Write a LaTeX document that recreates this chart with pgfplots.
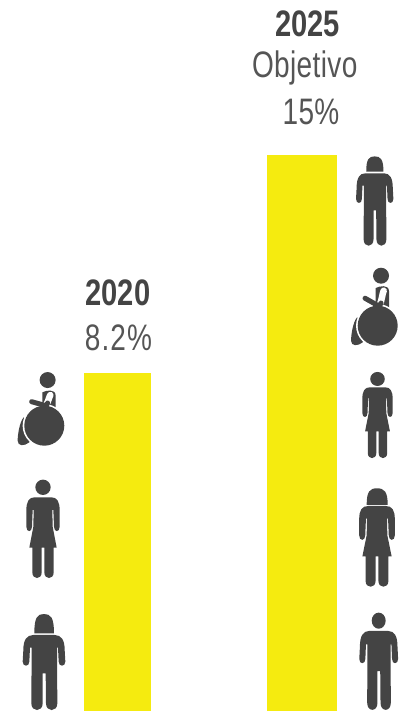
\documentclass[border=0pt]{standalone}
\usepackage{fontspec}
\setmainfont[FakeStretch=0.76,BoldFeatures={FakeStretch=0.79}]{Liberation Sans}
\usepackage{pgfplots}
\pgfplotsset{compat=1.18}
\definecolor{barcol}{HTML}{F5EB0F}
\definecolor{ink}{HTML}{444444}
\definecolor{softink}{HTML}{555555}

% pictogram placed at pixel x, y of the shoulder line; local units are 1/3 px
\newcommand{\icon}[5]{\begin{scope}[shift={(#1bp,{(711-#2)*1bp})},x=#3*0.3333bp,y=-#4*0.3333bp]#5\end{scope}}
\newcommand{\hair}[2]{\begin{scope}[shift={(0,-#1)},yscale=#2]
  \fill[ink] (-29,58) .. controls (-29,10) and (-20,0) .. (0,0) .. controls (20,0) and (30,10) .. (30,58) -- cycle;
\end{scope}}
\newcommand{\longbody}{\fill[ink] (-32,0) -- (32,0) .. controls (52,0) and (62,15) .. (62,45) -- (64,80)
  .. controls (64,96) and (44,96) .. (44,80) -- (42,38) -- (39,38) -- (40,205)
  .. controls (40,232) and (6,232) .. (6,205) -- (5,115) -- (-4,115) -- (-4,205)
  .. controls (-4,232) and (-38,232) .. (-38,205) -- (-37,38) -- (-42,38) -- (-44,80)
  .. controls (-44,96) and (-64,96) .. (-64,80) -- (-62,45) .. controls (-62,15) and (-52,0) .. (-32,0) -- cycle;}
\newcommand{\dressbody}{\fill[ink] (-25,0) -- (25,0) .. controls (42,0) and (50,12) .. (50,40) -- (50,88)
  .. controls (50,106) and (33,106) .. (33,88) -- (31,38) -- (28,38) -- (29,88) -- (41,151) -- (32,151) -- (32,225)
  .. controls (32,248) and (4,248) .. (4,225) -- (4,151) -- (-4,151) -- (-4,225)
  .. controls (-4,248) and (-32,248) .. (-32,225) -- (-32,151) -- (-41,151) -- (-29,88) -- (-28,38) -- (-31,38) -- (-33,88)
  .. controls (-33,106) and (-50,106) .. (-50,88) -- (-50,40) .. controls (-50,12) and (-42,0) .. (-25,0) -- cycle;}
% origin is the wheel centre, #1 lifts the upper body
\newcommand{\wheelie}[1]{%
  \fill[ink] (-62,-25) .. controls (-75,-10) and (-80,30) .. (-80,45) .. controls (-80,62) and (-60,62) .. (-45,50) -- (-30,0) -- cycle;
  \fill[ink] (-6,{-100-#1}) .. controls (5,{-106-#1}) and (34,{-112-#1}) .. (34,{-90-#1}) -- (34,-45) -- (-6,-45) -- cycle;
  \fill[white] (0,0) circle[radius=65];
  \draw[white,line width=6.5bp,line cap=round] (6,-64) .. controls (12,-72) and (14,{-85-#1}) .. (18,{-92-#1});
  \fill[ink] (0,0) circle[radius=60];
  \draw[ink,line width=5bp,line cap=round,line join=round] (-38,{-72-0.8*#1}) -- (-2,-62) .. controls (8,-60) and (8,-62) .. (10,-68);
  \fill[ink] (10,{-137-#1}) circle[radius=24];
}

\begin{document}
\begin{tikzpicture}
\path[use as bounding box] (0,0) rectangle (406bp,711bp);
\begin{axis}[
  scale only axis,
  width=406bp, height=711bp,
  xmin=0, xmax=406, ymin=0, ymax=711,
  axis lines=none,
  clip=false,
  ybar, ]
  % bar heights in pixels of the reference, it is not drawn to scale with the labels
  \addplot[fill=barcol, draw=none, bar width=67bp, bar shift=0pt] coordinates {(117.5,338)};
  \addplot[fill=barcol, draw=none, bar width=70bp, bar shift=0pt] coordinates {(302,556)};
  \node[anchor=base,text=ink,font=\fontsize{37}{37}\selectfont\bfseries] at (axis cs:118,405) {2020};
  \node[anchor=base,text=softink,font=\fontsize{37}{37}\selectfont\addfontfeature{LetterSpace=3}] at (axis cs:118.5,360) {8.2\%};
  \node[anchor=base,text=ink,font=\fontsize{37}{37}\selectfont\bfseries] at (axis cs:307.5,674.3) {2025};
  \node[anchor=base,text=softink,font=\fontsize{37}{37}\selectfont\addfontfeature{LetterSpace=1}] at (axis cs:304.7,633) {Objetivo};
  \node[anchor=base,text=softink,font=\fontsize{37}{37}\selectfont\addfontfeature{LetterSpace=1}] at (axis cs:311,586) {15\%};
\end{axis}
% left column
\icon{44.3}{425.7}{1}{1}{\wheelie{0}}
\icon{43}{497.3}{1}{1}{\dressbody \fill[ink] (0,-30) circle[radius=23];}
\icon{44}{635}{1}{1}{\longbody \hair{63}{1}}
% right column
\icon{374.7}{173.3}{0.875}{0.965}{\longbody \hair{52.6}{0.82}}
\icon{377.7}{325.7}{1}{1}{\wheelie{13}}
\icon{377.5}{387.3}{0.91}{0.877}{\dressbody \fill[ink] (0,-28.5) circle[radius=24];}
\icon{377}{506}{1.07}{1}{\dressbody \hair{53}{0.86}}
\icon{378.7}{631}{0.91}{1.05}{\longbody \fill[ink] (0,-29.5) circle[radius=23];}
\end{tikzpicture}
\end{document}
